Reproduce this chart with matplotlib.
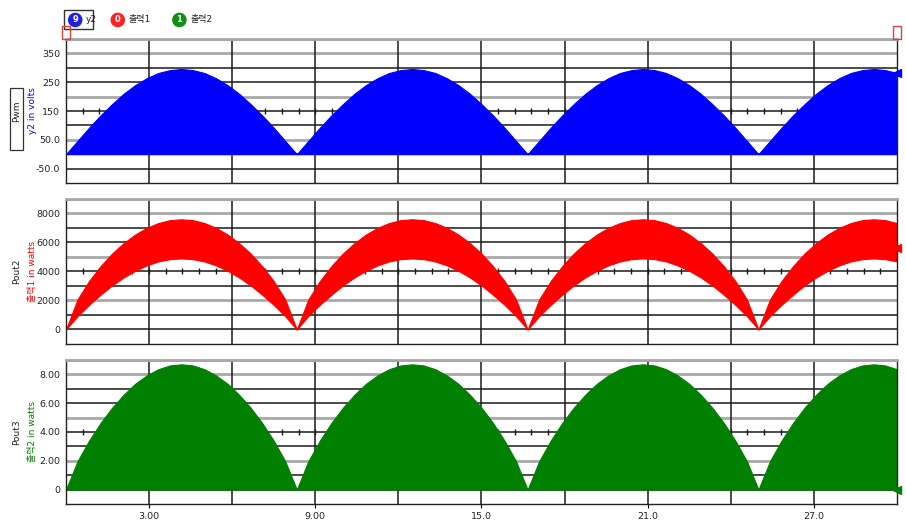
import numpy as np
import matplotlib
matplotlib.use("Agg")
import matplotlib.pyplot as plt
from matplotlib.patches import Rectangle

plt.rcParams['font.family'] = ['DejaVu Sans', 'Noto Sans CJK KR']

# time axis in ms, one rectified half-cycle per hump
hump_starts = [0.0, 8.333, 16.667, 25.0]
hump_len = 8.333
phase = [0.0, 0.05, 0.10, 0.15, 0.20, 0.25, 0.30, 0.35, 0.40, 0.45, 0.50,
         0.55, 0.60, 0.65, 0.70, 0.75, 0.80, 0.85, 0.90, 0.95, 1.0]

# envelopes read along one hump
y2_top = [0, 46, 92, 135, 174, 210, 240, 264, 282, 292, 296,
          292, 282, 264, 240, 210, 174, 135, 92, 46, 0]
p2_upper = [0, 2070, 3340, 4370, 5240, 5960, 6550, 7010, 7340, 7540, 7600,
            7540, 7340, 7010, 6550, 5960, 5240, 4370, 3340, 2070, 0]
p2_lower = [0, 920, 1700, 2400, 3040, 3590, 4050, 4420, 4690, 4850, 4900,
            4850, 4690, 4420, 4050, 3590, 3040, 2400, 1700, 920, 0]
p3_top = [0, 1.97, 3.40, 4.63, 5.69, 6.59, 7.35, 7.93, 8.36, 8.62, 8.70,
          8.62, 8.36, 7.93, 7.35, 6.59, 5.69, 4.63, 3.40, 1.97, 0]

x_ticks = [3, 9, 15, 21, 27]
x_ticklabels = ["3.00", "9.00", "15.0", "21.0", "27.0"]
x_grid = [3, 6, 9, 12, 15, 18, 21, 24, 27]
x_end = 30.0

panels = [
    dict(ylim=(-100, 400), step=50, ticks=[350, 250, 150, 50, -50],
         ticklabels=["350", "250", "150", "50.0", "-50.0"], axis_line=150,
         color="#0000ff", name="Pwm", label="y2 in volts"),
    dict(ylim=(-1000, 9000), step=1000, ticks=[8000, 6000, 4000, 2000, 0],
         ticklabels=["8000", "6000", "4000", "2000", "0"], axis_line=4000,
         color="#ff0000", name="Pout2", label="출력1 in watts"),
    dict(ylim=(-1, 9), step=1, ticks=[8, 6, 4, 2, 0],
         ticklabels=["8.00", "6.00", "4.00", "2.00", "0"], axis_line=4,
         color="#008000", name="Pout3", label="출력2 in watts"),
]


def build(env):
    ts, vs = [], []
    for s in hump_starts:
        for f, v in zip(phase, env):
            t = s + f * hump_len
            if t <= x_end + 1e-9:
                ts.append(t)
                vs.append(v)
    return np.array(ts), np.array(vs)


fig = plt.figure(figsize=(9.06, 5.25), dpi=100)
boxes = [(0.0728, 0.6514, 0.9172, 0.2743),
         (0.0728, 0.3448, 0.9172, 0.2762),
         (0.0728, 0.0400, 0.9172, 0.2743)]
axes = [fig.add_axes(b) for b in boxes]

for i, (ax, p) in enumerate(zip(axes, panels)):
    lo, hi = p["ylim"]
    ax.set_xlim(0, x_end)
    ax.set_ylim(lo, hi)

    # horizontal grid, alternating gray / black bands
    levels = np.arange(hi, lo, -p["step"])
    for k, v in enumerate(levels):
        if k == 0 or k % 3 == 1:
            ax.axhline(v, color="#a8a8a8", lw=2.0, zorder=1)
        else:
            ax.axhline(v, color="#1a1a1a", lw=1.1, zorder=1)
    for xv in x_grid:
        ax.axvline(xv, color="#1a1a1a", lw=1.1, zorder=1)

    # minor ticks on the mid axis line
    minor = np.arange(0.6, x_end, 0.6)
    ax.plot(minor, np.full(len(minor), p["axis_line"]), ls="none", marker="|",
            ms=4, color="#1a1a1a", mew=1.0, zorder=1.5)

    if i == 0:
        t, v = build(y2_top)
        ax.fill_between(t, 0, v, color=p["color"], lw=0.8, zorder=2)
    elif i == 1:
        t, up = build(p2_upper)
        t, dn = build(p2_lower)
        ax.fill_between(t, dn, up, color=p["color"], lw=0.8, zorder=2)
    else:
        t, v = build(p3_top)
        ax.fill_between(t, 0, v, color=p["color"], lw=0.8, zorder=2)

    ax.set_yticks(p["ticks"])
    ax.set_yticklabels(p["ticklabels"], fontsize=6.8, color="#222222")
    ax.tick_params(axis="y", length=0, pad=4)
    ax.set_xticks(x_ticks)
    if i == 2:
        ax.set_xticklabels(x_ticklabels, fontsize=6.8, color="#222222")
        ax.tick_params(axis="x", length=3, pad=3)
    else:
        ax.set_xticklabels([])
        ax.tick_params(axis="x", length=0)

    for side in ["left", "right", "bottom"]:
        ax.spines[side].set_color("#222222")
        ax.spines[side].set_linewidth(1.0)
    ax.spines["top"].set_color("#a8a8a8")
    ax.spines["top"].set_linewidth(2.0)

    # y labels: signal name and trace description
    yc = boxes[i][1] + boxes[i][3] / 2
    fig.text(0.018, yc, p["name"], rotation=90, fontsize=6.5, color="#222222",
             ha="center", va="center")
    fig.text(0.036, yc, p["label"], rotation=90, fontsize=6.5,
             color=p["color"], ha="center", va="center")

# box around the first panel's name
fig.patches.append(Rectangle((0.011, 0.714), 0.014, 0.118,
                             transform=fig.transFigure, fill=False,
                             ec="#333333", lw=0.9))

# current-value markers at the right edge
axes[0].plot([x_end], [282], marker="<", ms=6, color="#0000ff", clip_on=False,
             zorder=5)
axes[1].plot([x_end], [5600], marker="<", ms=6, color="#ff0000", clip_on=False,
             zorder=5)
axes[2].plot([x_end], [0], marker="<", ms=6, color="#008000", clip_on=False,
             zorder=5)

# legend strip
legend_items = [("9", "y2", "#2020e0", 0.083), ("0", "출력1", "#ff2020", 0.130),
                ("1", "출력2", "#109010", 0.198)]
for num, name, col, x in legend_items:
    fig.text(x, 0.962, num, fontsize=6, color="white", ha="center", va="center",
             fontweight="bold",
             bbox=dict(boxstyle="circle,pad=0.25", fc=col, ec=col))
    fig.text(x + 0.012, 0.962, name, fontsize=6.5, color="#222222",
             va="center")
fig.patches.append(Rectangle((0.071, 0.945), 0.032, 0.035, transform=fig.transFigure,
                             fill=False, ec="#333333", lw=1.0))

# cursor tags at both ends
for x in [0.0728, 0.990]:
    fig.patches.append(Rectangle((x - 0.004, 0.925), 0.008, 0.025,
                                 transform=fig.transFigure, fill=False,
                                 ec="#e04040", lw=1.0))

fig.savefig("out.png", dpi=100)
